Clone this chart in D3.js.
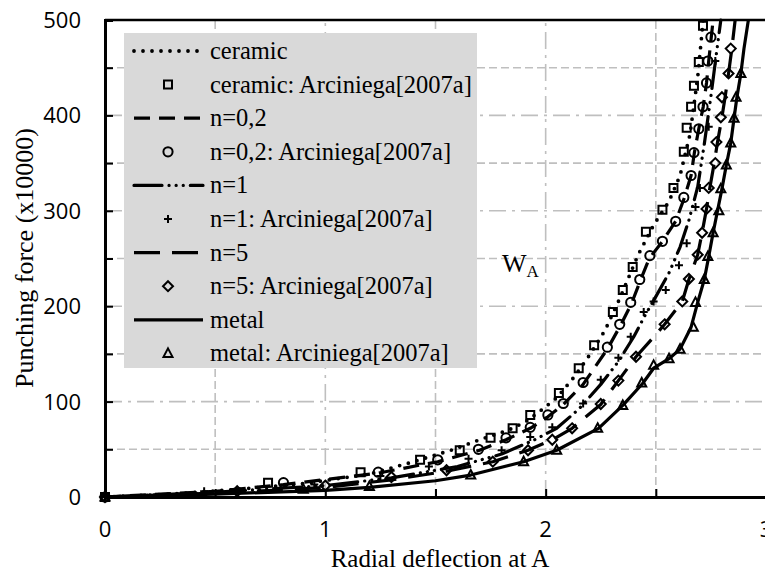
<!DOCTYPE html>
<html>
<head>
<meta charset="utf-8">
<script src="https://cdn.jsdelivr.net/npm/d3@7/dist/d3.min.js"></script>
<style>
  html, body { margin: 0; padding: 0; background: #fff; }
  svg { display: block; }
</style>
</head>
<body>
<svg id="chart" width="765" height="571"></svg>
<script>
// Model curves: [radial deflection, punching force]
const ceramicLine = [[0,0],[0.3,3],[0.6,8],[0.9,14],[1.2,24],[1.4,37],[1.57,49],[1.70,60],[1.83,70],[1.91,79],[1.98,91],[2.05,104],[2.13,126],[2.20,149],[2.27,175],[2.34,210],[2.42,254],[2.49,285],[2.56,310],[2.61,337],[2.655,380],[2.69,440],[2.715,500]];
const n02Line = [[0,0],[0.5,6],[0.81,13],[1.24,25],[1.51,37],[1.70,49],[1.82,60],[1.93,72],[2.01,84],[2.08,97],[2.17,118],[2.28,155],[2.34,180],[2.39,203],[2.43,227],[2.47,250],[2.53,268],[2.59,289],[2.63,314],[2.66,337],[2.675,361],[2.695,386],[2.715,409],[2.73,434],[2.74,457],[2.76,500]];
const n1Line = [[0,0],[0.5,5],[1.0,12],[1.3,20],[1.6,32],[1.8,45],[1.95,60],[2.05,72],[2.15,92],[2.25,118],[2.33,142],[2.40,168],[2.45,190],[2.50,210],[2.56,235],[2.61,262],[2.65,290],[2.69,325],[2.72,370],[2.75,420],[2.775,465],[2.795,500]];
const n5Line = [[0,0],[0.6,5],[1.0,10],[1.3,18],[1.55,27],[1.76,37],[1.92,49],[2.03,60],[2.12,72],[2.25,97],[2.33,122],[2.41,147],[2.48,165],[2.54,181],[2.62,205],[2.65,228],[2.69,254],[2.71,277],[2.73,302],[2.745,324],[2.765,350],[2.78,372],[2.80,398],[2.815,420],[2.83,444],[2.845,470],[2.86,500]];
const metalLine = [[0,0],[0.5,3],[1.0,7],[1.2,10],[1.5,17],[1.66,23],[1.90,37],[2.05,49],[2.24,72],[2.35,96],[2.44,119],[2.49,135],[2.56,145],[2.61,155],[2.66,178],[2.69,204],[2.72,228],[2.74,252],[2.76,277],[2.78,300],[2.80,323],[2.82,348],[2.84,371],[2.855,397],[2.868,419],[2.886,444],[2.90,470],[2.92,500]];

// Reference points, Arciniega [2007a]
const ceramicRef = [[0,0],[0.74,15],[1.16,26],[1.43,39],[1.61,49],[1.75,62],[1.85,72],[1.93,86],[2.06,109],[2.15,135],[2.22,159],[2.305,194],[2.35,217],[2.395,241],[2.455,278],[2.53,301],[2.58,324],[2.627,362],[2.64,387],[2.66,409],[2.673,431],[2.695,456],[2.714,494]];
const n02Ref = [[0,0],[0.81,15],[1.24,26],[1.51,39],[1.695,50],[1.82,62],[1.93,73],[2.01,86],[2.08,98],[2.17,120],[2.28,157],[2.336,181],[2.386,204],[2.427,228],[2.473,253],[2.53,268],[2.59,289],[2.627,314],[2.66,337],[2.673,361],[2.695,386],[2.714,409],[2.73,434],[2.736,457],[2.75,482]];
const n1Ref = [[0,0],[0.45,6],[0.95,13],[1.25,22],[1.47,32],[1.65,40],[1.80,49],[1.93,63],[2.03,73],[2.17,98],[2.25,123],[2.33,146],[2.386,168],[2.445,194],[2.49,205],[2.545,217],[2.605,243],[2.64,266],[2.68,304],[2.70,324],[2.74,388],[2.77,457]];
const n5Ref = [[0,0],[0.6,6],[1.0,12],[1.3,21],[1.55,28],[1.76,37],[1.92,49],[2.03,60],[2.12,72],[2.25,97.5],[2.33,122],[2.41,147],[2.54,181],[2.62,205],[2.65,228.5],[2.69,254],[2.71,277],[2.73,302],[2.74,324],[2.77,350],[2.775,372],[2.795,398],[2.80,419],[2.83,444],[2.84,470]];
const metalRef = [[0,0],[0.9,8],[1.2,11],[1.66,23],[1.90,37],[2.05,49],[2.236,72],[2.35,96],[2.436,119.5],[2.49,138],[2.56,145],[2.61,155],[2.67,178],[2.68,204],[2.72,228],[2.736,252],[2.76,277],[2.786,300],[2.795,323],[2.82,348],[2.84,371],[2.855,397],[2.864,419],[2.886,444]];

const xTicks = [0, 1, 2, 3];
const yTicks = [0, 100, 200, 300, 400, 500];
const legendLabels = ["ceramic", "ceramic: Arciniega[2007a]", "n=0,2", "n=0,2: Arciniega[2007a]", "n=1", "n=1: Arciniega[2007a]", "n=5", "n=5: Arciniega[2007a]", "metal", "metal: Arciniega[2007a]"];

const svg = d3.select("#chart");
const m = { left: 105, right: 766, top: 20, bottom: 497 };
const x = d3.scaleLinear().domain([0, 3]).range([m.left, m.right]);
const y = d3.scaleLinear().domain([0, 500]).range([m.bottom, m.top]);

const serif = "'Liberation Serif', 'Times New Roman', serif";
const sans = "'Open Sans', 'Noto Sans', sans-serif";

// Grid: minor lines dashed, major lines dash-dot
const grid = svg.append("g");
const gridColor = "#bfbfbf";
d3.range(0.5, 3, 0.5).forEach(v => {
  const major = Math.abs(v - Math.round(v)) < 1e-9;
  grid.append("line").attr("x1", x(v)).attr("x2", x(v)).attr("y1", y(0)).attr("y2", y(500))
    .attr("stroke", gridColor).attr("stroke-width", 1.6)
    .attr("stroke-dasharray", major ? "17,6,3,6" : "8,4");
});
d3.range(50, 500, 50).forEach(v => {
  const major = v % 100 === 0;
  grid.append("line").attr("x1", x(0)).attr("x2", x(3)).attr("y1", y(v)).attr("y2", y(v))
    .attr("stroke", gridColor).attr("stroke-width", 1.6)
    .attr("stroke-dasharray", major ? "17,6,3,6" : "8,4");
});

// Axes
const xAxis = d3.axisBottom(x).tickValues(d3.range(0, 3.01, 0.5)).tickSize(-8).tickFormat("");
const yAxis = d3.axisLeft(y).tickValues(d3.range(0, 501, 50)).tickSize(-8).tickFormat("");
const gx = svg.append("g").attr("transform", `translate(0,${m.bottom})`).call(xAxis);
const gy = svg.append("g").attr("transform", `translate(${m.left},0)`).call(yAxis);
[gx, gy].forEach(g => {
  g.select(".domain").attr("stroke", "#000").attr("stroke-width", 3);
  g.selectAll(".tick line").attr("stroke", "#000").attr("stroke-width", 2);
});
// top frame
svg.append("line").attr("x1", x(0)).attr("x2", x(3)).attr("y1", y(500)).attr("y2", y(500))
  .attr("stroke", "#000").attr("stroke-width", 2.5);

// Tick labels
svg.append("g").selectAll("text").data(xTicks).join("text")
  .attr("x", d => x(d)).attr("y", 537).attr("text-anchor", "middle")
  .attr("font-family", sans).attr("font-size", 22).text(d => d);
svg.append("g").selectAll("text").data(yTicks).join("text")
  .attr("x", 81).attr("y", d => y(d)).attr("dy", "0.36em").attr("text-anchor", "end")
  .attr("font-family", sans).attr("font-size", 22).text(d => d);

// Axis titles
svg.append("text").attr("x", 440).attr("y", 567).attr("text-anchor", "middle")
  .attr("font-family", serif).attr("font-size", 25).text("Radial deflection at A");
svg.append("text").attr("transform", "translate(33,258) rotate(-90)").attr("text-anchor", "middle")
  .attr("font-family", serif).attr("font-size", 26).text("Punching force (x10000)");

// Series styles
const series = [
  { line: ceramicLine, ref: ceramicRef, dash: "0,9", width: 3.8, cap: "round", marker: "square" },
  { line: n02Line, ref: n02Ref, dash: "16,9", width: 3.2, cap: "butt", marker: "circle" },
  { line: n1Line, ref: n1Ref, dash: "28,7,0.1,7,0.1,7,0.1,7", width: 3.2, cap: "round", marker: "plus" },
  { line: n5Line, ref: n5Ref, dash: "26,12", width: 3.2, cap: "butt", marker: "diamond" },
  { line: metalLine, ref: metalRef, dash: null, width: 3.2, cap: "butt", marker: "triangle" }
];

const markerPath = {
  square: "M-4,-4H4V4H-4Z",
  circle: "M4.6,0A4.6,4.6 0 1 1 -4.6,0A4.6,4.6 0 1 1 4.6,0Z",
  plus: "M-4,0H4M0,-4V4",
  diamond: "M0,-5L5,0L0,5L-5,0Z",
  triangle: "M0,-5L4.5,3.5H-4.5Z"
};

const line = d3.line().x(d => x(d[0])).y(d => y(d[1]));
const plot = svg.append("g");
series.forEach(s => {
  plot.append("path").datum(s.line).attr("d", line)
    .attr("fill", "none").attr("stroke", "#000").attr("stroke-width", s.width)
    .attr("stroke-linecap", s.cap).attr("stroke-linejoin", "round")
    .attr("stroke-dasharray", s.dash);
});
series.forEach(s => {
  plot.append("g").selectAll("path").data(s.ref).join("path")
    .attr("transform", d => `translate(${x(d[0])},${y(d[1])})`)
    .attr("d", markerPath[s.marker])
    .attr("fill", "none").attr("stroke", "#000").attr("stroke-width", 2);
});

// W_A label
const wa = svg.append("text").attr("x", 502).attr("y", 272).attr("font-family", serif).attr("font-size", 26);
wa.append("tspan").text("W");
wa.append("tspan").attr("font-size", 17).attr("dy", 5).text("A");

// Legend
const lg = svg.append("g");
lg.append("rect").attr("x", 124).attr("y", 33).attr("width", 353).attr("height", 335).attr("fill", "#d9d9d9");
const rowY = i => 51 + i * 33.6;
legendLabels.forEach((label, i) => {
  const s = series[Math.floor(i / 2)];
  const yy = rowY(i);
  if (i % 2 === 0) {
    lg.append("line").attr("x1", 134).attr("x2", 203).attr("y1", yy).attr("y2", yy)
      .attr("stroke", "#000").attr("stroke-width", s.width)
      .attr("stroke-linecap", s.cap).attr("stroke-dasharray", s.dash);
  } else {
    lg.append("path").attr("transform", `translate(168,${yy})`).attr("d", markerPath[s.marker])
      .attr("fill", "none").attr("stroke", "#000").attr("stroke-width", 2);
  }
  lg.append("text").attr("x", 210).attr("y", yy).attr("dy", "0.33em")
    .attr("font-family", serif).attr("font-size", 24.5).text(label);
});
</script>
</body>
</html>
